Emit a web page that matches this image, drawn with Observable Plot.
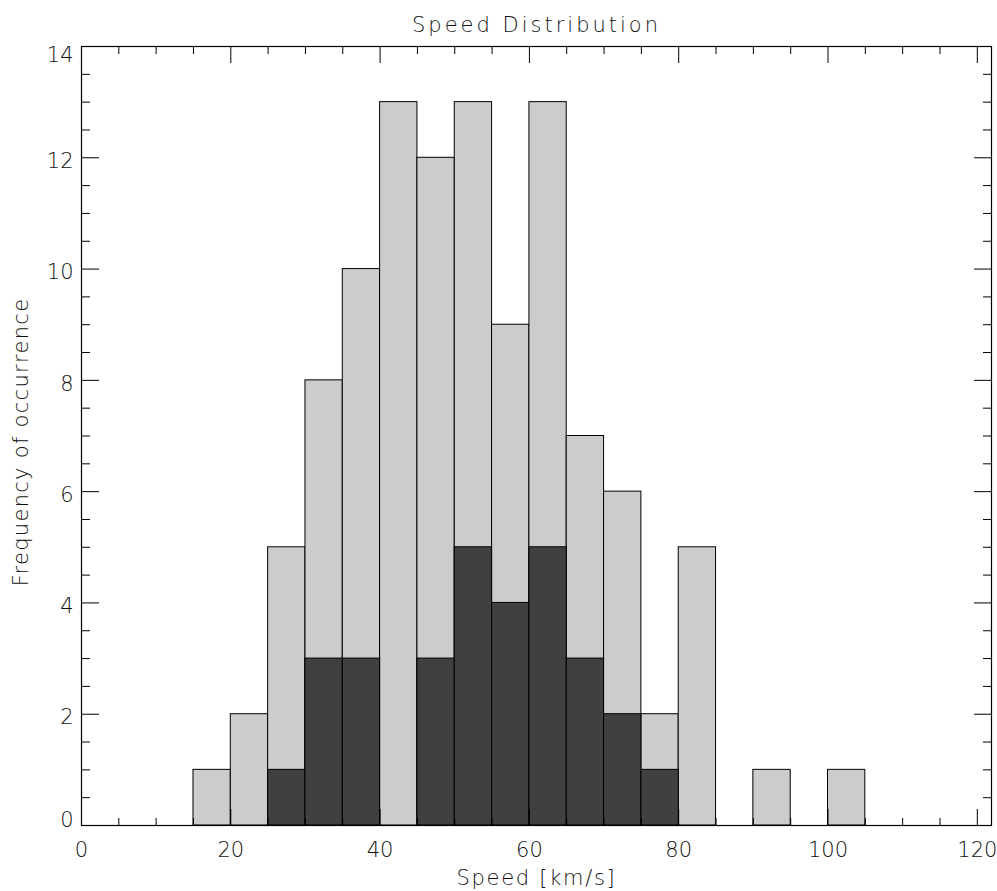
<!DOCTYPE html>
<html>
<head>
<meta charset="utf-8">
<script src="https://cdn.jsdelivr.net/npm/d3@7"></script>
<script src="https://cdn.jsdelivr.net/npm/@observablehq/plot@0.6"></script>
<style>
  html, body { margin: 0; padding: 0; background: #ffffff; }
  #chart { width: 997px; height: 891px; }
</style>
</head>
<body>
<div id="chart"></div>
<script>
// ---- data ----
const binStarts   = [15, 20, 25, 30, 35, 40, 45, 50, 55, 60, 65, 70, 75, 80, 85, 90, 95, 100];
const allCounts   = [ 1,  2,  5,  8, 10, 13, 12, 13,  9, 13,  7,  6,  2,  5,  0,  1,  0,   1];
const subsetCounts= [ 0,  0,  1,  3,  3,  0,  3,  5,  4,  5,  3,  2,  1,  0,  0,  0,  0,   0];
const binWidth = 5;

const xMajorTicks = [0, 20, 40, 60, 80, 100, 120];
const xMinorTicks = [5, 10, 15, 25, 30, 35, 45, 50, 55, 65, 70, 75, 85, 90, 95, 105, 110, 115];
const yMajorTicks = [0, 2, 4, 6, 8, 10, 12, 14];
const yMinorTicks = [0.5, 1, 1.5, 2.5, 3, 3.5, 4.5, 5, 5.5, 6.5, 7, 7.5, 8.5, 9, 9.5,
                     10.5, 11, 11.5, 12.5, 13, 13.5];

const titleText = "Speed Distribution";
const xLabel = "Speed [km/s]";
const yLabel = "Frequency of occurrence";

// ---- build tables ----
const allBins = binStarts.map((s, i) => ({x1: s, x2: s + binWidth, count: allCounts[i]})).filter(d => d.count > 0);
const subBins = binStarts.map((s, i) => ({x1: s, x2: s + binWidth, count: subsetCounts[i]})).filter(d => d.count > 0);

const font = "'DejaVu Sans', 'Liberation Sans', sans-serif";
const noText = () => "";

const chart = Plot.plot({
  width: 997,
  height: 891,
  marginLeft: 81,
  marginRight: 6,
  marginTop: 46,
  marginBottom: 66,
  style: {fontFamily: font, fontSize: "21px", background: "#ffffff", color: "#000000", fontWeight: "200"},
  x: {domain: [0, 121.9]},
  y: {domain: [0, 14]},
  marks: [
    Plot.rectY(allBins, {x1: "x1", x2: "x2", y: "count", fill: "#cccccc", stroke: "#000000", strokeWidth: 1}),
    Plot.rectY(subBins, {x1: "x1", x2: "x2", y: "count", fill: "#404040", stroke: "#000000", strokeWidth: 1}),

    // inward tick marks (bottom / top)
    Plot.axisX(xMajorTicks, {anchor: "bottom", tickSize: -16, tickFormat: noText, label: null, stroke: "#000"}),
    Plot.axisX(xMinorTicks, {anchor: "bottom", tickSize: -7, tickFormat: noText, label: null, stroke: "#000"}),
    Plot.axisX(xMajorTicks, {anchor: "top", tickSize: -16, tickFormat: noText, label: null, stroke: "#000"}),
    Plot.axisX(xMinorTicks, {anchor: "top", tickSize: -7, tickFormat: noText, label: null, stroke: "#000"}),
    // inward tick marks (left / right)
    Plot.axisY(yMajorTicks, {anchor: "left", tickSize: -18, tickFormat: noText, label: null, stroke: "#000"}),
    Plot.axisY(yMinorTicks, {anchor: "left", tickSize: -9, tickFormat: noText, label: null, stroke: "#000"}),
    Plot.axisY(yMajorTicks, {anchor: "right", tickSize: -18, tickFormat: noText, label: null, stroke: "#000"}),
    Plot.axisY(yMinorTicks, {anchor: "right", tickSize: -9, tickFormat: noText, label: null, stroke: "#000"}),

    // tick labels
    Plot.axisX(xMajorTicks, {anchor: "bottom", tickSize: 0, tickPadding: 17, tickFormat: d => String(d), label: null, fill: "#111"}),
    Plot.axisY(yMajorTicks.slice(1, -1), {anchor: "left", tickSize: 0, tickPadding: 8, dy: 3.5, tickFormat: d => String(d), label: null, fill: "#111"}),
    Plot.axisY(yMajorTicks.slice(0, 1), {anchor: "left", tickSize: 0, tickPadding: 8, dy: -5.5, tickFormat: d => String(d), label: null, fill: "#111"}),
    Plot.axisY(yMajorTicks.slice(-1), {anchor: "left", tickSize: 0, tickPadding: 8, dy: 9, tickFormat: d => String(d), label: null, fill: "#111"}),

    Plot.frame({stroke: "#000", strokeWidth: 1.2}),

    // title and axis labels
    Plot.text([titleText], {frameAnchor: "top", text: d => d, lineAnchor: "bottom", dy: -15, fontSize: 21, fill: "#111"}),
    Plot.text([xLabel], {frameAnchor: "bottom", text: d => d, lineAnchor: "bottom", dy: 59, fontSize: 21, fill: "#111"}),
    Plot.text([yLabel], {frameAnchor: "left", text: d => d, rotate: -90, textAnchor: "middle", lineAnchor: "bottom", dx: -54, dy: 6, fontSize: 21, fill: "#111"})
  ]
});

// widen the label lettering like the reference's stroke font
const spacing = new Map([[titleText, "3px"], [xLabel, "1.7px"], [yLabel, "1.3px"]]);
d3.select(chart).selectAll("text").each(function () {
  const s = spacing.get(this.textContent);
  if (s) this.style.letterSpacing = s;
});

document.getElementById("chart").appendChild(chart);
</script>
</body>
</html>
